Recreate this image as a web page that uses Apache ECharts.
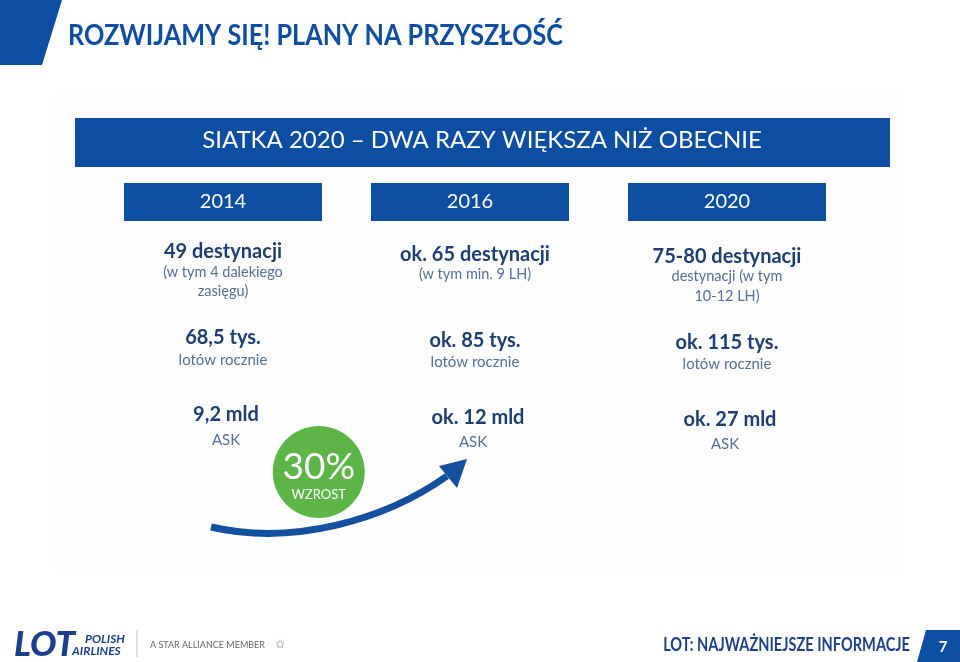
<!DOCTYPE html>
<html>
<head>
<meta charset="utf-8">
<script src="https://cdn.jsdelivr.net/npm/echarts@6/dist/echarts.min.js"></script>
<style>
html,body{margin:0;padding:0;background:#fff;}
#chart{width:960px;height:662px;}
</style>
</head>
<body>
<div id="chart"></div>
<script>
// ---- data ----
const pageTitle = 'ROZWIJAMY SIĘ! PLANY NA PRZYSZŁOŚĆ';
const bannerTitle = 'SIATKA 2020 – DWA RAZY WIĘKSZA NIŻ OBECNIE';
const years = ['2014', '2016', '2020'];
const destMain = ['49 destynacji', 'ok. 65 destynacji', '75-80 destynacji'];
const destSub = [['(w tym 4 dalekiego', 'zasięgu)'], ['(w tym min. 9 LH)'], ['destynacji (w tym', '10-12 LH)']];
const flightsMain = ['68,5 tys.', 'ok. 85 tys.', 'ok. 115 tys.'];
const flightsSub = ['lotów rocznie', 'lotów rocznie', 'lotów rocznie'];
const askMain = ['9,2 mld', 'ok. 12 mld', 'ok. 27 mld'];
const askSub = ['ASK', 'ASK', 'ASK'];
const growthValue = '30%';
const growthLabel = 'WZROST';
const footerRight = 'LOT: NAJWAŻNIEJSZE INFORMACJE';
const pageNumber = '7';

// ---- style ----
const BLUE = '#0d4ea2';
const NAVY = '#1d3d73';
const SUBC = '#566f96';
const GREEN = '#5db548';
const FONT = 'Lato, "Open Sans", sans-serif';
const boxShift = [0, -5, 0];

const chart = echarts.init(document.getElementById('chart'), null, {renderer: 'canvas'});

function columnItem(params, api) {
  const i = api.value(0);
  const x = api.coord([i, 0])[0];
  const dy = i * 2.2;
  const bx = x + boxShift[i];
  const children = [];
  children.push({
    type: 'rect', shape: {x: bx - 99, y: 183, width: 198, height: 38},
    style: {fill: BLUE}
  });
  children.push({
    type: 'text', style: {text: years[i], x: bx, y: 202, align: 'center', verticalAlign: 'middle',
      fill: '#fff', font: '20px ' + FONT}
  });
  const t = (txt, yy, bold, size, color, dx) => children.push({
    type: 'text', style: {text: txt, x: x + (dx || 0), y: yy + dy, align: 'center', verticalAlign: 'middle',
      fill: color, font: (bold ? 'bold ' : '') + size + 'px ' + FONT}
  });
  t(destMain[i], 252, true, 20, NAVY);
  destSub[i].forEach((s, k) => t(s, 272 + k * 19.5, false, 14.5, SUBC));
  t(flightsMain[i], 338, true, 20, NAVY);
  t(flightsSub[i], 360, false, 15, SUBC);
  t(askMain[i], 415, true, 20, NAVY, 3);
  t(askSub[i], 440, false, 15, SUBC, i === 0 ? 3 : -2);
  return {type: 'group', children};
}

function growthItem(params, api) {
  const a = api.coord([api.value(0), 0])[0];
  const b = api.coord([api.value(1), 0])[0];
  const cx = a + (b - a) * 0.38;
  return {
    type: 'group',
    children: [
      {type: 'circle', shape: {cx: cx, cy: 472, r: 46}, style: {fill: GREEN}},
      {type: 'text', style: {text: growthValue, x: cx, y: 467, align: 'center', verticalAlign: 'middle',
        fill: '#fff', font: '37px ' + FONT}},
      {type: 'text', style: {text: growthLabel, x: cx, y: 495, align: 'center', verticalAlign: 'middle',
        fill: '#fff', font: '13px ' + FONT}},
      {type: 'bezierCurve', shape: {x1: a - 12, y1: 527, cpx1: a + 70, cpy1: 546, cpx2: b - 90, cpy2: 520, x2: b - 28, y2: 476},
        style: {stroke: '#14509f', lineWidth: 7, fill: null, lineCap: 'butt'}},
      {type: 'polygon', shape: {points: [[b - 8, 459], [b - 36, 466], [b - 18, 488]]}, style: {fill: '#14509f'}}
    ]
  };
}

const option = {
  animation: false,
  backgroundColor: '#fff',
  grid: {left: 97, right: 107, top: 0, bottom: 0},
  xAxis: {type: 'category', data: years, show: false},
  yAxis: {type: 'value', min: 0, max: 1, show: false},
  graphic: [
    {type: 'rect', shape: {x: 55, y: 92, width: 848, height: 478}, style: {fill: '#fdfdfd'}, z: -10},
    {type: 'polygon', shape: {points: [[0, 0], [62, 0], [42, 65], [0, 65]]}, style: {fill: BLUE}},
    {type: 'text', x: 68, y: 36, scaleX: 0.9, style: {text: pageTitle, x: 0, y: 0, verticalAlign: 'middle', fill: BLUE, font: 'bold 28px ' + FONT}},
    {type: 'rect', shape: {x: 75, y: 118, width: 815, height: 49}, style: {fill: BLUE}},
    {type: 'text', style: {text: bannerTitle, x: 482, y: 140, align: 'center', verticalAlign: 'middle', fill: '#fff', font: '24px ' + FONT}},
    {type: 'text', style: {text: 'LOT', x: 14, y: 645, verticalAlign: 'middle', fill: '#1b3f8b', font: 'italic 900 35px ' + FONT}},
    {type: 'text', style: {text: 'POLISH', x: 85, y: 639, verticalAlign: 'middle', fill: '#1b3f8b', font: 'italic bold 12px ' + FONT}},
    {type: 'text', style: {text: 'AIRLINES', x: 72, y: 651, verticalAlign: 'middle', fill: '#1b3f8b', font: 'italic bold 12px ' + FONT}},
    {type: 'line', shape: {x1: 137, y1: 630, x2: 137, y2: 657}, style: {stroke: '#bbb', lineWidth: 1}},
    {type: 'text', style: {text: 'A STAR ALLIANCE MEMBER', x: 150, y: 645, verticalAlign: 'middle', fill: '#666', font: '9px ' + FONT}},
    {type: 'text', style: {text: '✩', x: 275, y: 645, verticalAlign: 'middle', fill: '#888', font: '12px "DejaVu Sans"'}},
    {type: 'text', x: 910, y: 645, scaleX: 0.81, style: {text: footerRight, x: 0, y: 0, align: 'right', verticalAlign: 'middle', fill: '#1d3f8c', font: 'bold 18px ' + FONT}},
    {type: 'polygon', shape: {points: [[926, 630], [960, 630], [960, 662], [917, 662]]}, style: {fill: BLUE}},
    {type: 'text', style: {text: pageNumber, x: 943, y: 647, align: 'center', verticalAlign: 'middle', fill: '#fff', font: 'bold 15px ' + FONT}}
  ],
  series: [
    {type: 'custom', renderItem: columnItem, data: years.map((y, i) => [i]), silent: true},
    {type: 'custom', renderItem: growthItem, data: [[0, 1]], silent: true}
  ]
};
chart.setOption(option);
</script>
</body>
</html>
